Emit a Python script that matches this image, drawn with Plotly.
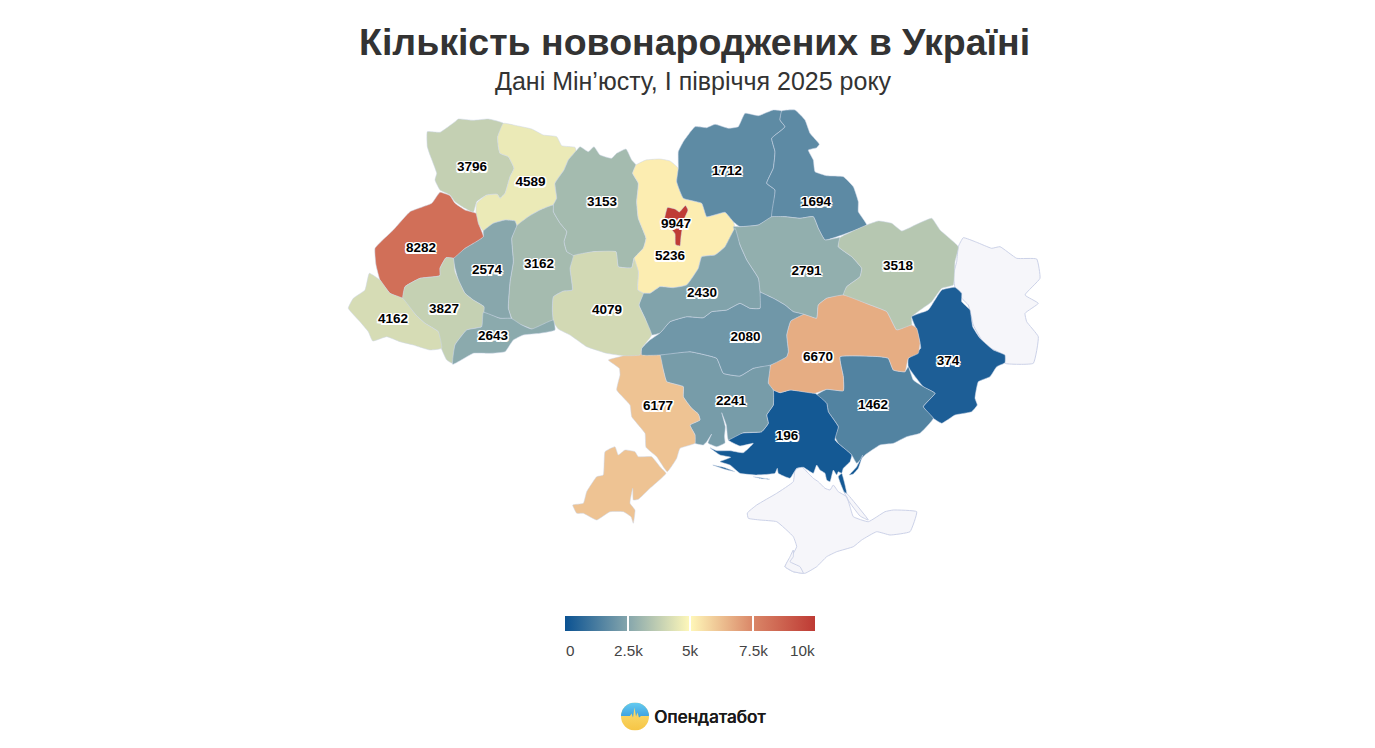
import base64

import plotly.graph_objects as go
from plotly.colors import sample_colorscale

REGIONS = [
    "Волинська", "Рівненська", "Житомирська", "Київська", "Чернігівська", "Сумська",
    "Полтавська", "Харківська", "Донецька", "Запорізька", "Херсонська", "Дніпропетровська",
    "Миколаївська", "Одеська", "Кіровоградська", "Черкаська", "Вінницька", "Хмельницька",
    "Тернопільська", "Львівська", "Івано-Франківська", "Закарпатська", "Чернівецька", "Київ",
]
BIRTHS = [
    3796, 4589, 3153, 5236, 1712, 1694,
    2791, 3518, 374, 1462, 196, 6670,
    2241, 6177, 2080, 2430, 4079, 3162,
    2574, 8282, 3827, 4162, 2643, 9947,
]
LABEL_X = [472, 530.5, 602, 670, 727, 816, 806.5, 898, 948, 873, 787, 818, 731, 658, 745.5, 702, 607, 539, 487, 421, 444, 393, 493, 676]
LABEL_Y = [168, 183, 203, 257, 172, 203, 272, 267, 362, 406, 437, 358, 402, 407, 338, 294, 311, 265, 271, 249, 310, 320, 337, 225]
NO_DATA = ["Луганська", "Крим", "Севастополь"]

TICK_VALUES = [2500, 5000, 7500]
TICK_LABELS = ["0", "2.5k", "5k", "7.5k", "10k"]
TICK_LABEL_X = [570, 628, 690.5, 753, 802.5]

COLORSCALE = [
    [0.0, "rgb(11,82,146)"],
    [0.25, "rgb(132,165,172)"],
    [0.5, "rgb(255,248,185)"],
    [0.75, "rgb(218,135,104)"],
    [1.0, "rgb(190,58,52)"],
]

OUTLINES = {
    "Волинська": [[(427.3,131.7),(440,132.3),(455,121.7),(458.3,119),(473.3,120.3),(488.3,119),(503.3,123.3),(497.7,136.7),(498.3,146.7),(500,153.3),(508.3,156.7),(514,168.3),(510,176.7),(505,193.3),(500,198.3),(497.3,194.3),(486.7,195),(476.7,201.7),(473.3,212.3),(465,208.3),(455,201.7),(450,195),(440,190),(435,180),(436.7,173.3),(430,155),(427.3,146.7)]],
    "Рівненська": [[(503.3,123.3),(516.7,125.7),(531.7,129),(543.3,135),(556.7,136.7),(561.7,145.7),(575,147.3),(576,151),(568.3,160),(564,170),(555,183.3),(556.7,198.3),(553.3,205),(540,210),(528.3,216.7),(516.7,225.7),(515,221),(505,220),(493.3,223.3),(483.3,231),(478.3,223.3),(476,213.3),(476.7,203.3),(486.7,195),(497.3,194.3),(500,198.3),(505,193.3),(510,176.7),(514,168.3),(508.3,156.7),(500,153.3),(498.3,146.7),(497.7,136.7)]],
    "Житомирська": [[(576,151),(580,146.7),(588.3,151.7),(594,146.7),(600,155),(611.7,158.3),(616.7,153.3),(626,149),(631.7,160),(636,165),(632.7,173.3),(638.3,183.3),(636.7,201.7),(638.3,218.3),(646,238.3),(643.3,248.3),(634,258.3),(631.7,267.7),(618.3,266.7),(616,251.7),(610,251.7),(593.3,251.7),(573.3,255.7),(566.7,251.7),(564,241.7),(566.7,231.7),(560,223.3),(553.3,211.7),(553.3,205),(556.7,198.3),(555,183.3),(564,170),(568.3,160)]],
    "Київська": [[(686.7,285),(673.3,287.7),(660,286.7),(650,293.3),(643.3,293.3),(637.7,290),(638.3,271.7),(634,258.3),(643.3,248.3),(646,238.3),(638.3,218.3),(636.7,201.7),(638.3,183.3),(632.7,173.3),(636,165),(646,160),(660,159),(670,161),(678.3,168.3),(676.7,181.7),(683.3,198.3),(701.7,203.3),(706.7,216.7),(725,212.3),(733.3,221.7),(735,228.3),(725,246.7),(715,255),(701.7,256.7),(698.3,268.3)]],
    "Чернігівська": [[(678.3,151.7),(683.3,141.7),(695,126.7),(706.7,127.7),(715,124.3),(728.3,128.3),(738.3,126.7),(745,113.3),(758.3,115.7),(773.3,110),(781.7,111),(780,120),(785,126.7),(781.7,130),(771.7,138.3),(775,151.7),(773.3,168.3),(766.7,183.3),(775,190),(771.7,216.7),(758.3,225),(740,226.7),(733.3,221.7),(725,212.3),(706.7,216.7),(701.7,203.3),(683.3,198.3),(676.7,181.7),(678.3,168.3)]],
    "Сумська": [[(781.7,111),(795,110),(805,120),(810,133.3),(819.3,144.3),(816.7,147.7),(808.3,150),(813.3,160),(815,171.7),(826.7,175.7),(843.3,176.7),(853.3,186.7),(858.3,201.7),(858.3,211.7),(866.7,225),(846.7,233.3),(825,240),(818.3,228.3),(813.3,216.7),(800,218.3),(785,216.7),(771.7,216.7),(775,190),(766.7,183.3),(773.3,168.3),(775,151.7),(771.7,138.3),(781.7,130),(785,126.7),(780,120)]],
    "Полтавська": [[(733.3,226.7),(740,226.7),(758.3,225),(771.7,216.7),(785,216.7),(800,218.3),(813.3,216.7),(818.3,228.3),(825,240),(840,237.7),(838.3,246.7),(851.7,256.7),(861.7,268.3),(860,276.7),(846.7,286.7),(843.3,295),(826.7,298.3),(818.3,305),(816.7,318.3),(803.3,314.3),(793.3,311.7),(785,305),(773.3,298.3),(760,291.7),(758.3,278.3),(746.7,260),(740,245)]],
    "Харківська": [[(866.7,225),(878.3,221),(891.7,223.3),(901.7,231),(916.7,224.3),(931.7,218.3),(940,230),(958.3,246.7),(955,261.7),(953.3,285),(941.7,288.3),(931.7,301.7),(911.7,316.7),(911.7,325),(896.7,330),(886.7,311.7),(870,305),(843.3,295),(846.7,286.7),(860,276.7),(861.7,268.3),(851.7,256.7),(838.3,246.7),(840,237.7)]],
    "Луганська": [[(958.3,246.7),(963.3,237.7),(976.7,242.3),(991.7,248.3),(1000,246.7),(1016.7,258.3),(1036.7,259),(1040,278.3),(1025,295),(1038.3,303.3),(1025,313.3),(1026.7,321.7),(1038.3,336.7),(1033.3,363.3),(1005,363.3),(1003.3,355),(985,345),(973.3,325),(968.3,305),(961.7,298.3),(955,287.7),(953.3,275),(956.7,261.7)]],
    "Донецька": [[(941.7,290),(955,287.3),(961.7,293.3),(961.7,301.7),(970,310),(972.7,326.7),(980,338.3),(993.3,350),(1005,355),(1005,362.7),(996.7,366.7),(990,376.7),(978.3,381.7),(975,398.3),(977.3,405),(971.7,411.7),(955,415),(941.7,423.3),(933.3,418.3),(923.3,406.7),(935,393.3),(923.3,386.7),(908.3,366.7),(908.3,358.3),(920.7,348.3),(916.7,330),(911.7,316.7),(928.3,310)]],
    "Дніпропетровська": [[(843.3,295),(870,305),(886.7,311.7),(896.7,330),(911.7,325),(916.7,328.3),(920,343.3),(918.3,353.3),(908.3,358.3),(905,371.7),(893.3,370),(888.3,358.3),(880,356.7),(840,356.7),(843.3,376.7),(843.3,390.7),(826.7,389.3),(815,393.3),(790,390),(780,392.7),(773.3,390),(768.3,383.3),(770.7,365),(786.7,356.7),(788.3,351.7),(786.7,335),(790.7,321),(803.3,314.3),(816.7,318.3),(818.3,305),(826.7,298.3)]],
    "Запорізька": [[(816.7,395),(826.7,389.3),(843.3,390.7),(843.3,376.7),(840,356.7),(880,356.7),(888.3,358.3),(893.3,370),(905,371.7),(908.3,366.7),(913.3,380),(923.3,386.7),(935,393.3),(923.3,406.7),(933.3,418.3),(920,433.3),(906.7,436.7),(893.3,443.3),(880,445),(865,455),(856.7,463.3),(851.7,455),(838.3,443.3),(835,436.7),(838.3,426.7),(828.3,411.7),(826.7,403.3)]],
    "Херсонська": [
        [(773.3,390),(780,392.7),(790,390),(815,393.3),(826.7,403.3),(828.3,411.7),(838.3,426.7),(835,440),(851.7,455),(850,461.7),(843.3,468.3),(841.7,473.3),(838.3,471.7),(836.7,475),(833.3,470),(830,481.7),(826.7,480),(825,473.3),(820,470),(816.7,465),(813.3,473.3),(803.3,467.3),(796.7,468.3),(790,478.3),(778.3,473.3),(777.3,468.3),(775,473.3),(756.7,475),(740,473.3),(730,465),(720,461.7),(730.7,457.3),(720,455),(710,447.7),(716.7,450.7),(730,450.7),(743.3,452.7),(753.3,443.3),(740,446),(728.3,440),(740,433.3),(761.7,431.7),(768.3,423.3),(766.7,415),(773.3,405)],
        [(712.7,465),(723.3,467.3),(735,471.7),(725,469.3)],
        [(753.3,476.7),(770,479.3),(761.7,478.7)],
        [(841.7,473.3),(846.7,493.3),(844,491.7),(838.3,476.7)],
        [(849.3,475),(856.7,466.7),(862.7,455),(858.3,468.3),(853.3,474)],
    ],
    "Кіровоградська": [[(641.7,348.3),(650,340),(660,333),(670,321.7),(686.7,316.7),(703.3,317.7),(711.7,311.7),(726.7,310),(740,303.3),(750,308.3),(760,308.3),(758.3,291.7),(773.3,298.3),(785,305),(793.3,311.7),(803.3,314.3),(790.7,321),(786.7,335),(788.3,351.7),(786.7,356.7),(770.7,365),(753.3,368.3),(740,376),(723.3,373.3),(716.7,358.3),(698.3,353.3),(690,351.7),(660,355),(641.7,355)]],
    "Миколаївська": [[(660,355),(690,351.7),(698.3,353.3),(716.7,358.3),(723.3,373.3),(740,376),(753.3,368.3),(770,365),(768.3,383.3),(773.3,390),(773.3,405),(766.7,415),(768.3,423.3),(761.7,431.7),(743.3,432.7),(728.3,440),(727.5,436.7),(726.3,425),(721.7,412.7),(725.3,426.7),(724.5,436.7),(725,443),(716.7,446.7),(708,443),(711.7,434),(706.7,441.7),(703.3,445),(695,443.3),(695,435),(690,425),(700,420),(698.3,414),(691.7,408.3),(683.3,396.7),(683.3,386.7),(666.7,381.7),(663.3,370)]],
    "Одеська": [
        [(608.3,360),(620,356.7),(641.7,350),(650,349.3),(660,355),(663.3,370),(666.7,381.7),(683.3,386.7),(683.3,396.7),(691.7,408.3),(698.3,414),(700,420),(690,425),(695,435),(695,443.3),(680,448.3),(676.7,458.3),(667.3,471.7),(656.7,456.7),(646,447.3),(645,433.3),(631.7,416.7),(630,405),(616.7,390),(620,375),(619.3,368.3)],
        [(666,473.3),(650,488.3),(638.3,499.3),(633.3,500),(632.7,488.3),(630,503.3),(635,510),(633.3,523.3),(631,516.7),(623.3,511.7),(610,511.7),(596.7,520),(583.3,513.3),(576.7,513.3),(572.7,505),(583.3,503.3),(586.7,491.7),(596.7,476.7),(603.3,475),(605,451.7),(615,446.7),(618.3,455),(625,450),(635,451.7),(638.3,456.7),(651.7,456.7),(660,466.7)],
    ],
    "Черкаська": [[(735,228.3),(740,245),(746.7,260),(758.3,278.3),(760,291.7),(760,308.3),(750,308.3),(740,303.3),(726.7,310),(711.7,311.7),(703.3,317.7),(686.7,316.7),(670,321.7),(660,333),(651.7,335),(645,318.3),(639,305),(643.3,293.3),(650,293.3),(660,286.7),(673.3,287.7),(686.7,285),(698.3,268.3),(701.7,256.7),(715,255),(725,246.7)]],
    "Вінницька": [[(573.3,255.7),(593.3,251.7),(616,251.7),(618.3,266.7),(631.7,267.7),(634,258.3),(638.3,271.7),(637.7,290),(643.3,293.3),(639,305),(645,318.3),(651.7,335),(641.7,348.3),(640,355),(623.3,355.7),(606.7,353.3),(586.7,346.7),(570,335),(558.3,329),(553.3,321.7),(552.3,310),(553.3,296.7),(563.3,291),(572.3,290),(570,268.3)]],
    "Хмельницька": [[(516.7,225.7),(528.3,216.7),(540,210),(553.3,205),(553.3,211.7),(560,223.3),(566.7,231.7),(564,241.7),(566.7,251.7),(573.3,255.7),(570,268.3),(572.3,290),(563.3,291),(553.3,296.7),(552.3,310),(553.3,321.7),(555,329),(540,332.3),(531.7,329),(521.7,325),(513.3,321.7),(508.3,308.3),(510,281.7),(513.3,261.7),(511.7,238.3)]],
    "Тернопільська": [[(483.3,231),(493.3,223.3),(505,220),(515,221),(516.7,225.7),(511.7,238.3),(513.3,261.7),(510,281.7),(508.3,308.3),(511,318.3),(500,318.3),(483.3,312.3),(484,306.7),(473.3,300),(465,293.3),(458.3,280),(453.3,258.3),(465,248.3),(483.3,236.7)]],
    "Львівська": [[(440,192.3),(450,195.7),(455,203.3),(465,210),(473.3,212.3),(476,213.3),(478.3,223.3),(483.3,236.7),(465,248.3),(453.3,258.3),(446,257.7),(440,268.3),(440,275.7),(420,278.3),(405,286.7),(402.7,298.3),(390,293.3),(380,280),(376,265),(375,248.3),(393.3,230),(410,211.7),(431.7,203.3)]],
    "Івано-Франківська": [[(453.3,258.3),(455,271.7),(465,293.3),(473.3,300),(484,306.7),(483.3,318.3),(481.7,326.7),(466.7,330),(455,345),(452.7,363.3),(446.7,360),(440,345),(438.3,331.7),(425,323.3),(416,315),(402.7,298.3),(405,286.7),(420,278.3),(440,275.7),(440,268.3),(446,257.7)]],
    "Закарпатська": [[(369.3,273.3),(380,280),(390,293.3),(402.7,298.3),(416,315),(425,323.3),(438.3,331.7),(441.7,348.3),(430,350),(413.3,345),(400,341.7),(386.7,336.7),(372.7,341),(368.3,331.7),(360,321.7),(348.3,308.3),(353.3,298.3),(365,290)]],
    "Чернівецька": [[(483.3,312.3),(500,318.3),(511,318.3),(521.7,325),(531.7,329),(553.3,320),(555,330),(540,333.3),(523.3,335),(513.3,340),(505,351.7),(490,353.3),(473.3,353.3),(452.7,364.3),(455,345),(466.7,330),(481.7,326.7)]],
    "Київ": [[(664.5,219),(667.5,207.5),(675,209),(679.3,212),(685.5,205.5),(688,210),(684.5,218.3),(682.5,226.7),(681,236.7),(680,246),(675.5,244.5),(675,233.8),(671,229),(665.5,227.5)]],
    "Крим": [
        [(795,470),(801.7,466.7),(808.3,473.3),(813.3,478.3),(818.3,481.7),(825,488.3),(830,490),(833.3,485),(838.3,491.7),(846.7,496.7),(850,506.7),(853.3,516.7),(868.3,521.7),(885,511.7),(893.3,510),(916.7,511.7),(910,531.7),(890,535),(876.7,531.7),(861.7,540),(853.3,546.7),(836.7,551.7),(826.7,556.7),(816.7,566.7),(805,573.3),(793.3,571.7),(785,566.7),(793.3,553.3),(796.7,546.7),(793.3,536.7),(776.7,521.7),(760,520),(748.3,518.3),(747.3,513),(756.7,505),(776.7,493.3),(793.3,481.7)],
        [(843.3,490),(850,497),(868.3,520),(860,516),(848,500)],
    ],
    "Севастополь": [[(793.3,550),(793.3,556.7),(790,561.7),(800,566.7),(803.3,573.3),(793.3,571.7),(785,566.7),(790,556.7)]],
}


def ring_coords(rings):
    """Flattens a region's rings into x and y lists, with gaps between the rings."""
    xs, ys = [], []
    for ring in rings:
        for x, y in ring + ring[:1]:
            xs.append(x)
            ys.append(y)
        xs.append(None)
        ys.append(None)
    return xs, ys


def logo_source():
    svg = (
        '<svg xmlns="http://www.w3.org/2000/svg" viewBox="0 0 28 28">'
        '<defs><linearGradient id="b" x1="0" y1="0" x2="0" y2="1">'
        '<stop offset="0" stop-color="#66ccf0"/><stop offset="1" stop-color="#3c9fe0"/></linearGradient>'
        '<linearGradient id="y" x1="0" y1="0" x2="0" y2="1">'
        '<stop offset="0" stop-color="#fbe27c"/><stop offset="1" stop-color="#f6c545"/></linearGradient>'
        '<clipPath id="c"><circle cx="14" cy="14" r="14"/></clipPath></defs>'
        '<g clip-path="url(#c)"><rect width="28" height="28" fill="url(#y)"/>'
        '<path d="M0 0H28V13.5H20L18 15L16.5 10L15 14L13.5 5L12 15L10.5 11L9 13.5H0Z" fill="url(#b)"/></g></svg>'
    )
    return "data:image/svg+xml;base64," + base64.b64encode(svg.encode()).decode()


fig = go.Figure()

# regions without data sit underneath
for name in NO_DATA:
    xs, ys = ring_coords(OUTLINES[name])
    fig.add_trace(
        go.Scatter(
            x=xs, y=ys, mode="lines", fill="toself", fillcolor="#f6f6fa",
            line=dict(color="#ccd2e8", width=1, shape="spline", smoothing=0.35), name=name, hoverinfo="name",
        )
    )

for name, value in zip(REGIONS, BIRTHS):
    xs, ys = ring_coords(OUTLINES[name])
    color = sample_colorscale(COLORSCALE, value / 10000)[0]
    fig.add_trace(
        go.Scatter(
            x=xs, y=ys, mode="lines", fill="toself", fillcolor=color,
            line=dict(color="rgba(205,215,232,0.75)", width=0.7, shape="spline", smoothing=0.35), name=name,
            hovertemplate=f"{name}: {value}<extra></extra>",
        )
    )

halo = (
    "-1.5px 0 0 #fff, 1.5px 0 0 #fff, 0 -1.5px 0 #fff, 0 1.5px 0 #fff, "
    "-1.2px -1.2px 0 #fff, 1.2px -1.2px 0 #fff, -1.2px 1.2px 0 #fff, 1.2px 1.2px 0 #fff"
)
fig.add_trace(
    go.Scatter(
        x=LABEL_X, y=LABEL_Y, mode="markers+text",
        text=[str(v) for v in BIRTHS], textposition="middle center",
        textfont=dict(family="Liberation Sans", size=13.5, color="#000", weight="bold", shadow=halo),
        marker=dict(
            size=1, color=BIRTHS, colorscale=COLORSCALE, cmin=0, cmax=10000,
            colorbar=dict(
                orientation="h", lenmode="pixels", len=250, thicknessmode="pixels", thickness=15,
                x=690 / 1375, xanchor="center", y=1 - 616 / 748, yanchor="top", ypad=0, xpad=0,
                outlinewidth=0, tickvals=TICK_VALUES, ticks="inside", ticklen=15,
                tickcolor="#fff", tickwidth=1.5, showticklabels=False,
            ),
        ),
        hoverinfo="skip", showlegend=False,
    )
)

fig.add_layout_image(
    source=logo_source(), xref="x", yref="y", x=621, y=702.5, sizex=28, sizey=28,
    xanchor="left", yanchor="top", sizing="stretch", layer="above",
)

annotations = [
    dict(x=694, y=41.5, text="<b>Кількість новонароджених в Україні</b>",
         font=dict(family="Liberation Sans", size=37.5, color="#333")),
    dict(x=693.5, y=81, text="Дані Мін’юсту, І півріччя 2025 року",
         font=dict(family="Liberation Sans", size=25, color="#333")),
    dict(x=710, y=716, text="Опендатабот",
         font=dict(family="Inter", size=17.2, color="#1a1a1a", weight=500, shadow="0.4px 0 0 #1a1a1a")),
]
for label, x in zip(TICK_LABELS, TICK_LABEL_X):
    annotations.append(
        dict(x=x, y=650, text=label, font=dict(family="Liberation Sans", size=15.3, color="#444"))
    )
for a in annotations:
    a.update(xref="x", yref="y", showarrow=False, xanchor="center", yanchor="middle")

fig.update_layout(
    width=1375,
    height=748,
    margin=dict(l=0, r=0, t=0, b=0),
    paper_bgcolor="#fff",
    plot_bgcolor="#fff",
    showlegend=False,
    xaxis=dict(range=[0, 1375], visible=False, fixedrange=True),
    yaxis=dict(range=[748, 0], visible=False, fixedrange=True),
    annotations=annotations,
)

fig.write_html("out.html", config={"displayModeBar": False}, post_script="document.body.style.margin='0';")
